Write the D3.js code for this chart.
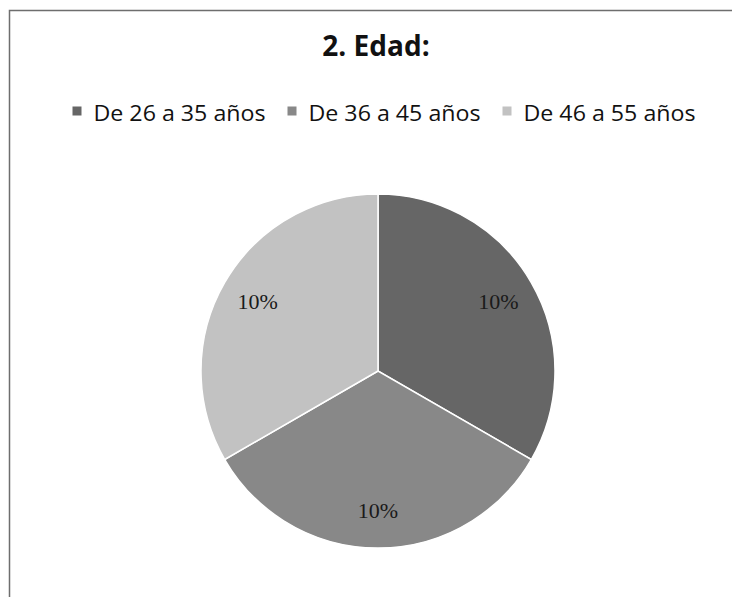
<!DOCTYPE html>
<html>
<head>
<meta charset="utf-8">
<script src="https://cdn.jsdelivr.net/npm/d3@7/dist/d3.min.js"></script>
<style>
  html, body { margin: 0; padding: 0; background: #fff; }
  svg { display: block; }
</style>
</head>
<body>
<svg id="chart" width="732" height="597"></svg>
<script>
const title = "2. Edad:";
const categories = ["De 26 a 35 años", "De 36 a 45 años", "De 46 a 55 años"];
const values = [10, 10, 10];
const valueLabels = ["10%", "10%", "10%"];
const colors = ["#666666", "#888888", "#c2c2c2"];

const W = 732, H = 597;
const svg = d3.select("#chart");

// frame
svg.append("rect")
  .attr("x", 9.5).attr("y", 10.5)
  .attr("width", 740).attr("height", 600)
  .attr("fill", "none")
  .attr("stroke", "#6e6e6e")
  .attr("stroke-width", 1.5);

// title
svg.append("text")
  .attr("x", 376).attr("y", 56)
  .attr("text-anchor", "middle")
  .attr("font-family", "'Open Sans', sans-serif")
  .attr("font-weight", "bold")
  .attr("font-size", 28)
  .attr("fill", "#111")
  .text(title);

// legend
const legendTextW = 172, sq = 9, sqGap = 12, itemGap = 22;
const itemW = sq + sqGap + legendTextW;
const totalW = categories.length * itemW + (categories.length - 1) * itemGap;
const lx0 = 384 - totalW / 2;
const legend = svg.append("g");
categories.forEach((c, i) => {
  const x = lx0 + i * (itemW + itemGap);
  legend.append("rect")
    .attr("x", x).attr("y", 106.5)
    .attr("width", sq).attr("height", sq)
    .attr("fill", colors[i]);
  legend.append("text")
    .attr("x", x + sq + sqGap).attr("y", 121)
    .attr("font-family", "'Open Sans', sans-serif")
    .attr("font-size", 21.5)
    .attr("fill", "#111")
    .attr("textLength", legendTextW)
    .attr("lengthAdjust", "spacingAndGlyphs")
    .text(c);
});

// pie
const cx = 378, cy = 371, R = 177;
const pie = d3.pie().sort(null).value(d => d)(values);
const arc = d3.arc().innerRadius(0).outerRadius(R);
const labelArc = d3.arc().innerRadius(139).outerRadius(139);
const g = svg.append("g").attr("transform", `translate(${cx},${cy})`);
g.selectAll("path.slice")
  .data(pie)
  .join("path")
  .attr("class", "slice")
  .attr("d", arc)
  .attr("fill", (d, i) => colors[i])
  .attr("stroke", "#fff")
  .attr("stroke-width", 1.5);

g.selectAll("text.lbl")
  .data(pie)
  .join("text")
  .attr("class", "lbl")
  .attr("transform", d => `translate(${labelArc.centroid(d)})`)
  .attr("text-anchor", "middle")
  .attr("dominant-baseline", "central")
  .attr("font-family", "'Liberation Serif', serif")
  .attr("font-size", 22)
  .attr("fill", "#1a1a1a")
  .text((d, i) => valueLabels[i]);
</script>
</body>
</html>
